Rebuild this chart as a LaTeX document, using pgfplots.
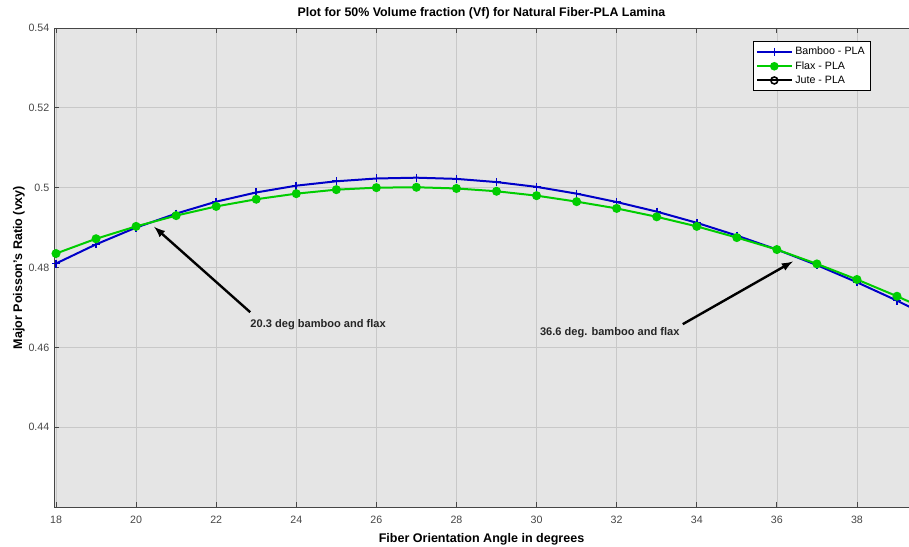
\documentclass[border=0pt]{standalone}
\usepackage{fontspec}
\setmainfont{Liberation Sans}
\usepackage{pgfplots}
\pgfplotsset{compat=1.18}
\usepackage{pgfplotstable}
\definecolor{bamboo}{RGB}{0,0,200}
\definecolor{flax}{RGB}{0,205,0}
\definecolor{bg}{RGB}{229,229,229}
\definecolor{gridc}{RGB}{200,200,200}
\definecolor{tickc}{RGB}{70,70,70}
\pgfplotstableread{
x bamboo flax
18 0.4810 0.4835
19 0.4858 0.4872
20 0.4900 0.4903
21 0.4935 0.4930
22 0.4965 0.4953
23 0.4988 0.4971
24 0.5005 0.4985
25 0.5016 0.4995
26 0.5023 0.5000
27 0.5025 0.5001
28 0.5022 0.4998
29 0.5014 0.4991
30 0.5002 0.4980
31 0.4985 0.4965
32 0.4964 0.4948
33 0.4940 0.4927
34 0.4912 0.4903
35 0.4880 0.4875
36 0.4845 0.4845
37 0.4806 0.4809
38 0.4763 0.4770
39 0.4717 0.4728
40 0.4667 0.4683
}\datatable
\begin{document}
\begin{tikzpicture}
\begin{axis}[
  scale only axis,
  width=641.25pt, height=359.25pt,
  xmin=17.95, xmax=39.3,
  ymin=0.42, ymax=0.54,
  xtick={18,20,...,38},
  ytick={0.44,0.46,0.48,0.5,0.52,0.54},
  yticklabel style={/pgf/number format/fixed, /pgf/number format/precision=2},
  /pgf/number format/assume math mode=true,
  tick label style={font=\fontsize{8}{9}\selectfont, text=tickc},
  xticklabel style={yshift=-3.5pt},
  label style={font=\bfseries\fontsize{9.4}{11}\selectfont},
  title style={font=\bfseries\fontsize{9.3}{11}\selectfont, yshift=-3pt},
  title={Plot for 50\% Volume fraction (Vf) for Natural Fiber-PLA Lamina},
  xlabel={Fiber Orientation Angle in degrees},
  ylabel={Major Poisson's Ratio (vxy)},
  xlabel style={yshift=0pt},
  ylabel style={yshift=-4pt},
  axis background/.style={fill=bg},
  grid=major,
  major grid style={gridc, line width=0.5pt},
  axis line style={tickc, line width=0.6pt},
  tick style={tickc, line width=0.6pt},
  tick align=inside,
  xtick pos=both,
  ytick pos=left,
  major tick length=4pt,
  axis x line*=box,
  axis y line*=left,
  clip=true,
  legend style={at={(1,1)}, anchor=north east, xshift=-29pt, yshift=-10pt,
    font=\fontsize{8}{9.5}\selectfont, draw=black, fill=white, line width=0.5pt,
    row sep=-0.5pt, inner sep=2pt},
  legend cell align=left,
  legend image code/.code={
    \draw[#1, line width=1.5pt, mark=none] (0pt,0pt) -- (26pt,0pt);
    \draw[#1, line width=1.2pt, only marks] plot coordinates {(13pt,0pt)};
  },
]
\addplot[bamboo, line width=1.5pt, mark=+, mark size=3pt, mark options={line width=1.2pt}] table[x=x, y=bamboo] {\datatable};
\addlegendentry{Bamboo - PLA}
\addplot[flax, line width=1.5pt, mark=*, mark size=2.6pt] table[x=x, y=flax] {\datatable};
\addlegendentry{Flax - PLA}
\addlegendimage{black, line width=1.5pt, mark=o, mark size=2.6pt}
\addlegendentry{Jute - PLA}
\draw[-latex, black, line width=1.8pt] (axis cs:22.85,0.4688) -- (axis cs:20.45,0.4902);
\node[anchor=west, inner sep=0pt, font=\bfseries\fontsize{8.3}{9}\selectfont, text=black!85] at (axis cs:22.85,0.4658) {20.3 deg bamboo and flax};
\draw[-latex, black, line width=1.8pt] (axis cs:33.65,0.4658) -- (axis cs:36.4,0.4815);
\node[anchor=west, inner sep=0pt, font=\bfseries\fontsize{8.3}{9}\selectfont, text=black!85] at (axis cs:30.08,0.4636) {36.6 deg. bamboo and flax};
\end{axis}
\pgfresetboundingbox
\path ([shift={(-40.5pt,-29.25pt)}]current axis.south west) rectangle ([shift={(0pt,21pt)}]current axis.north east);
\end{tikzpicture}
\end{document}
